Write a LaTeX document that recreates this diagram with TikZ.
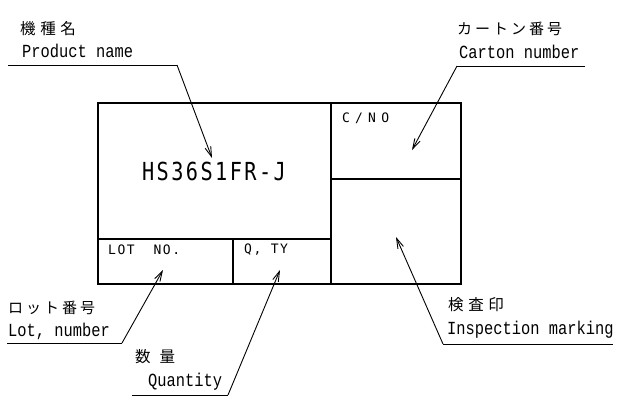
\documentclass[tikz,border=0pt]{standalone}
\usepackage{fontspec}
\usetikzlibrary{arrows.meta}
\newfontfamily\jp{Noto Sans CJK JP}[LetterSpace=20]
\newfontfamily\jpw{Noto Sans CJK JP}[LetterSpace=30]
\newfontfamily\mono{Liberation Mono}
\newfontfamily\boxmono{DejaVu Sans Mono}[LetterSpace=12]
\newfontfamily\cnomono{DejaVu Sans Mono}[LetterSpace=40]
\begin{document}
\begin{tikzpicture}[x=1pt,y=-1pt,
  frame/.style={line width=1.6pt},
  leader/.style={line width=0.9pt},
  pointer/.style={line width=0.9pt,-{Straight Barb[length=10pt,width=6pt]}},
  jptext/.style={anchor=west,inner sep=0pt,font=\jp\fontsize{15}{15}\selectfont},
  jpwide/.style={anchor=west,inner sep=0pt,font=\jpw\fontsize{15.5}{15.5}\selectfont},
  entext/.style={anchor=west,inner sep=0pt,font=\mono\fontsize{15.4}{15.4}\selectfont},
  boxlabel/.style={anchor=west,inner sep=0pt,font=\boxmono\fontsize{13}{13}\selectfont},
  model/.style={inner sep=0pt,font=\boxmono\fontsize{23}{23}\selectfont}]
\useasboundingbox (0,0) rectangle (629,405);
% frame
\coordinate (tl) at (98,103);
\coordinate (br) at (461,284);
\draw[frame] (tl) rectangle (br);
\draw[frame] (331,103) -- (331,284);
\draw[frame] (98,239) -- (331,239);
\draw[frame] (233,239) -- (233,284);
\draw[frame] (331,179) -- (461,179);
% box texts
\node[model] (model) at (214,171) {\scalebox{0.88}[1.08]{HS36S1FR-J}};
\node[boxlabel] (lot) at (108,250) {LOT\ \ NO.};
\node[boxlabel] (qty) at (244,250) {Q, TY};
\node[boxlabel,font=\cnomono\fontsize{13}{13}\selectfont] (cno) at (342,118) {C/NO};
% product name
\node[jpwide] (pnj) at (20,29) {機種名};
\node[entext] (pne) at (22,51) {\scalebox{1}[1.2]{Product name}};
\coordinate (pn0) at (8,65);
\coordinate (pn1) at (177,65);
\coordinate (pnt) at (212,158);
\draw[leader] (pn0) -- (pn1);
\draw[pointer] (pn1) -- (pnt);
% carton number
\node[jptext] (cnj) at (457,29) {カートン番号};
\node[entext] (cne) at (459,52) {\scalebox{1}[1.2]{Carton number}};
\coordinate (cn0) at (585,66);
\coordinate (cn1) at (457,66);
\coordinate (cnt) at (412,150);
\draw[leader] (cn0) -- (cn1);
\draw[pointer] (cn1) -- (cnt);
% lot number
\node[jptext] (lnj) at (8,308) {ロット番号};
\node[entext] (lne) at (8,331) {\scalebox{1}[1.2]{Lot, number}};
\coordinate (ln0) at (7,343);
\coordinate (ln1) at (122,343);
\coordinate (lnt) at (163,270);
\draw[leader] (ln0) -- (ln1);
\draw[pointer] (ln1) -- (lnt);
% quantity
\node[jpwide] (qtj) at (135,357) {数\hspace{9pt}量};
\node[entext] (qte) at (148,382) {\scalebox{1}[1.2]{Quantity}};
\coordinate (qt0) at (132,395);
\coordinate (qt1) at (228,395);
\coordinate (qtt) at (280,270);
\draw[leader] (qt0) -- (qt1);
\draw[pointer] (qt1) -- (qtt);
% inspection marking
\node[jpwide] (imj) at (448,305) {検査印};
\node[entext] (ime) at (447,330) {\scalebox{1}[1.2]{Inspection marking}};
\coordinate (im0) at (613,344);
\coordinate (im1) at (443,344);
\coordinate (imt) at (396,237);
\draw[leader] (im0) -- (im1);
\draw[pointer] (im1) -- (imt);
\end{tikzpicture}
\end{document}
